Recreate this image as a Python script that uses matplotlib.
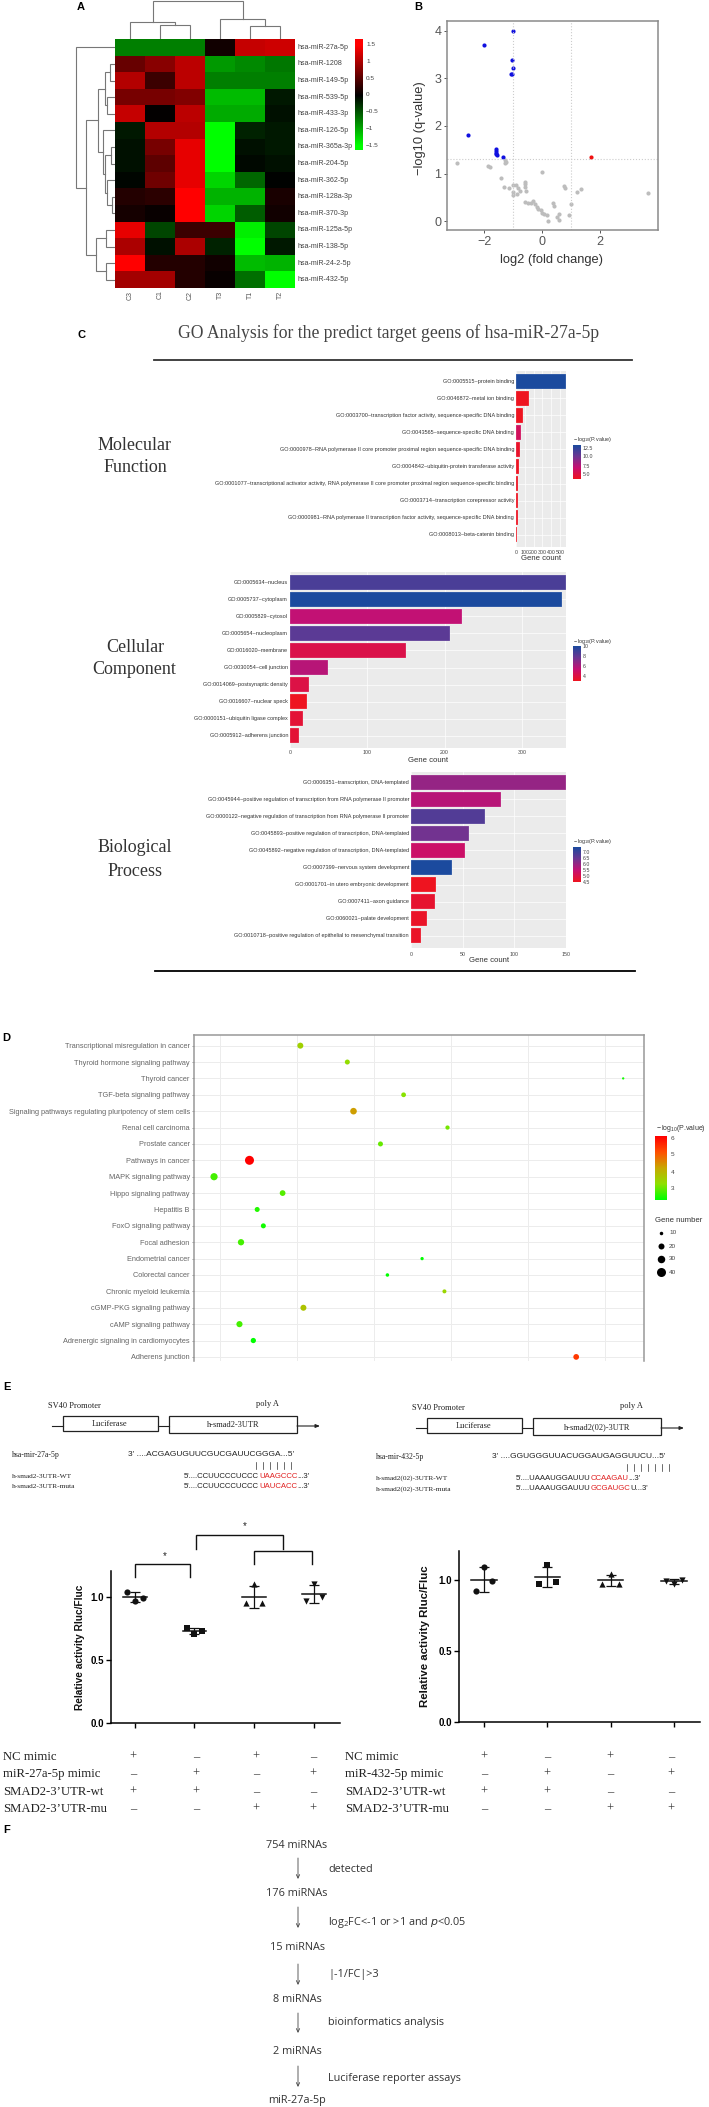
import numpy as np
import matplotlib
matplotlib.use("Agg")
import matplotlib.pyplot as plt
from matplotlib.colors import LinearSegmentedColormap, Normalize
from matplotlib.patches import Rectangle

W, H = 709, 2107
SANS = "Liberation Sans"
SERIF = "Liberation Serif"
plt.rcParams["font.family"] = SANS
plt.rcParams["mathtext.default"] = "regular"

# --- A heatmap
mirnas = ["hsa-miR-27a-5p", "hsa-miR-1208", "hsa-miR-149-5p", "hsa-miR-539-5p", "hsa-miR-433-3p",
          "hsa-miR-126-5p", "hsa-miR-365a-3p", "hsa-miR-204-5p", "hsa-miR-362-5p", "hsa-miR-128a-3p",
          "hsa-miR-370-3p", "hsa-miR-125a-5p", "hsa-miR-138-5p", "hsa-miR-24-2-5p", "hsa-miR-432-5p"]
samples = ["C3", "C1", "C2", "T3", "T1", "T2"]
heat = [[-0.75, -0.75, -0.75, 0.1, 1.15, 1.2],
        [0.6, 0.8, 1.1, -0.9, -0.8, -0.7],
        [1.05, 0.35, 1.1, -0.75, -0.75, -0.75],
        [0.7, 0.7, 0.75, -1.1, -1.1, -0.15],
        [1.15, 0.02, 1.1, -1.0, -1.0, -0.1],
        [-0.15, 1.05, 1.05, -1.5, -0.2, -0.15],
        [-0.1, 0.7, 1.35, -1.5, -0.1, -0.15],
        [-0.1, 0.55, 1.35, -1.5, -0.05, -0.1],
        [-0.03, 0.65, 1.35, -1.25, -0.6, -0.02],
        [0.2, 0.25, 1.5, -1.05, -1.05, 0.15],
        [0.12, 0.05, 1.5, -1.25, -0.55, 0.1],
        [1.35, -0.4, 0.35, 0.35, -1.4, -0.4],
        [1.0, -0.1, 1.0, -0.2, -1.5, -0.15],
        [1.5, 0.2, 0.2, 0.1, -1.1, -1.05],
        [0.95, 0.95, 0.2, 0.05, -0.65, -1.5]]
# dendrograms as (height, left, right), leaves are row / column numbers
row_tree = (39, 0, (29, (17, (10, (5, 1, 2), (8, 3, 4)),
                         (12, 5, (10, (4, 6, 7), (8, 8, (3, 9, 10))))),
                    (19, (9, 11, 12), (9, 13, 14))))
col_tree = (38, (17, 0, (14, 1, 2)), (20, 3, (13, 4, 5)))

# --- B volcano
blue_x = [-1, -2, -1.03, -1, -1.08, -1.03, -2.55, -1.6, -1.6, -1.6, -1.58, -1.57, -1.35]
blue_y = [4, 3.7, 3.39, 3.22, 3.09, 3.09, 1.81, 1.52, 1.48, 1.44, 1.41, 1.39, 1.34]
red_x = [1.7]
red_y = [1.36]
gray_x = [-2.94, -1.85, -1.8, -1.42, -1.28, -1.25, -1.28, 0, -0.59, -0.59, -0.59, -0.56, -1.31, -1.13,
          -1.01, -0.9, -0.82, -0.76, -0.99, -0.99, -0.87, -0.59, -0.47, -0.38, -0.3, -0.24, -0.18, -0.13,
          -0.05, -0.01, 0.07, 0.16, 0.22, 0.37, 0.41, 0.5, 0.6, 0.6, 0.76, 0.79, 0.92, 1, 1.22, 1.36, 3.66]
gray_y = [1.22, 1.17, 1.15, 0.9, 1.28, 1.24, 1.22, 1.04, 0.83, 0.78, 0.73, 0.64, 0.73, 0.71,
          0.76, 0.76, 0.69, 0.64, 0.62, 0.55, 0.57, 0.4, 0.39, 0.38, 0.43, 0.36, 0.31, 0.27,
          0.24, 0.18, 0.15, 0.13, 0.01, 0.39, 0.32, 0.1, 0.15, 0.03, 0.74, 0.69, 0.13, 0.36, 0.62, 0.67, 0.59]

# --- C GO bars
mf_terms = ["GO:0005515~protein binding", "GO:0046872~metal ion binding",
            "GO:0003700~transcription factor activity, sequence-specific DNA binding",
            "GO:0043565~sequence-specific DNA binding",
            "GO:0000978~RNA polymerase II core promoter proximal region sequence-specific DNA binding",
            "GO:0004842~ubiquitin-protein transferase activity",
            "GO:0001077~transcriptional activator activity, RNA polymerase II core promoter proximal region sequence-specific binding",
            "GO:0003714~transcription corepressor activity",
            "GO:0000981~RNA polymerase II transcription factor activity, sequence-specific DNA binding",
            "GO:0008013~beta-catenin binding"]
mf_counts = [568, 144, 80, 53, 40, 34, 28, 28, 23, 17]
mf_logp = [13, 4.4, 4.4, 6.5, 4.8, 4.5, 4.5, 4.5, 4.5, 4.4]
cc_terms = ["GO:0005634~nucleus", "GO:0005737~cytoplasm", "GO:0005829~cytosol", "GO:0005654~nucleoplasm",
            "GO:0016020~membrane", "GO:0030054~cell junction", "GO:0014069~postsynaptic density",
            "GO:0016607~nuclear speck", "GO:0000151~ubiquitin ligase complex", "GO:0005912~adherens junction"]
cc_counts = [357, 352, 222, 207, 150, 49, 25, 22, 17, 11]
cc_logp = [9.5, 11, 6, 9, 4.6, 6.3, 4.5, 3.3, 4, 4]
bp_terms = ["GO:0006351~transcription, DNA-templated",
            "GO:0045944~positive regulation of transcription from RNA polymerase II promoter",
            "GO:0000122~negative regulation of transcription from RNA polymerase II promoter",
            "GO:0045893~positive regulation of transcription, DNA-templated",
            "GO:0045892~negative regulation of transcription, DNA-templated",
            "GO:0007399~nervous system development", "GO:0001701~in utero embryonic development",
            "GO:0007411~axon guidance", "GO:0060021~palate development",
            "GO:0010718~positive regulation of epithelial to mesenchymal transition"]
bp_counts = [150, 87, 72, 56, 52, 40, 24, 23, 15, 10]
bp_logp = [6.0, 5.6, 6.8, 6.4, 5.3, 7.5, 4.4, 4.6, 4.5, 4.5]

# --- D KEGG dots
pathways = ["Transcriptional misregulation in cancer", "Thyroid hormone signaling pathway", "Thyroid cancer",
            "TGF-beta signaling pathway", "Signaling pathways regulating pluripotency of stem cells",
            "Renal cell carcinoma", "Prostate cancer", "Pathways in cancer", "MAPK signaling pathway",
            "Hippo signaling pathway", "Hepatitis B", "FoxO signaling pathway", "Focal adhesion",
            "Endometrial cancer", "Colorectal cancer", "Chronic myeloid leukemia", "cGMP-PKG signaling pathway",
            "cAMP signaling pathway", "Adrenergic signaling in cardiomyocytes", "Adherens junction"]
path_x = [2.04, 2.65, 6.23, 3.38, 2.73, 3.95, 3.08, 1.38, 0.92, 1.81, 1.48, 1.56, 1.27, 3.62, 3.17, 3.91, 2.08, 1.25,
          1.43, 5.62]
path_genes = [20, 16, 4, 15, 24, 13, 16, 42, 28, 19, 16, 16, 22, 9, 10, 12, 20, 21, 17, 19]
path_logp = [3.7, 3.5, 2.7, 3.4, 4.4, 3.3, 3.2, 6, 3.0, 3.1, 2.8, 2.7, 3.0, 2.6, 2.6, 3.6, 3.9, 3.0, 2.6, 5.4]
legend_genes = [10, 20, 30, 40]
legend_diam = [3.5, 6, 7.5, 9]

# --- E luciferase
groups = [1, 2, 3, 4]
left_vals = [[1.04, 0.97, 0.99], [0.75, 0.71, 0.73], [0.95, 1.1, 0.95], [0.97, 1.1, 1.0]]
right_vals = [[0.92, 1.09, 0.99], [0.97, 1.1, 0.98], [0.97, 1.04, 0.97], [0.99, 0.97, 1.0]]
markers = ["o", "s", "^", "v"]
table_rows = ["NC mimic", "mimic", "SMAD2-3\u2019UTR-wt", "SMAD2-3\u2019UTR-mu"]
table_marks = [["+", "\u2013", "+", "\u2013"], ["\u2013", "+", "\u2013", "+"],
               ["+", "+", "\u2013", "\u2013"], ["\u2013", "\u2013", "+", "+"]]

# --- F flow
flow_nodes = ["754 miRNAs", "176 miRNAs", "15 miRNAs", "8 miRNAs", "2 miRNAs", "miR-27a-5p"]
flow_steps = ["detected", r"log$_2$FC<-1 or >1 and $\mathit{p}$<0.05", "|-1/FC|>3", "bioinformatics analysis",
              "Luciferase reporter assays"]


fig = plt.figure(figsize=(W / 100, H / 100), dpi=100, facecolor="white")


def px_axes(x0, y0, x1, y1, **kw):
    return fig.add_axes([x0 / W, 1 - y1 / H, (x1 - x0) / W, (y1 - y0) / H], **kw)


ov = px_axes(0, 0, W, H)
ov.set_xlim(0, W)
ov.set_ylim(H, 0)
ov.axis("off")
ov.set_zorder(5)
ov.patch.set_alpha(0)


def txt(x, y, s, size=6, color="#222222", ha="left", va="center", **kw):
    return ov.text(x, y, s, fontsize=size, color=color, ha=ha, va=va, **kw)


def seq_text(x, y, parts, size=6.0):
    # parts are (text, colour), drawn one after the other
    rend = fig.canvas.get_renderer()
    for s, c in parts:
        t = txt(x, y, s, size=size, color=c)
        x = ov.transData.inverted().transform(t.get_window_extent(rend).p1)[0]


def draw_tree(ax, node, pos):
    if not isinstance(node, tuple):
        return pos[node], 0
    h, a, b = node
    pa, ha = draw_tree(ax, a, pos)
    pb, hb = draw_tree(ax, b, pos)
    ax.plot([ha, h, h, hb], [pa, pa, pb, pb], color="#777777", lw=0.8, solid_joinstyle="miter")
    return (pa + pb) / 2, h


for s, x, y in [("A", 81, 7), ("B", 418, 7), ("C", 82, 335), ("D", 6, 1038), ("E", 7, 1387), ("F", 7, 1830)]:
    txt(x, y, s, size=8, color="black", ha="center", fontweight="bold")

# A
green_red = LinearSegmentedColormap.from_list("gr", ["#00ff00", "#000000", "#ff0000"])
ax = px_axes(115, 39, 295, 288)
ax.imshow(np.array(heat), cmap=green_red, vmin=-1.5, vmax=1.5, aspect="auto", interpolation="nearest")
ax.axis("off")
for i, name in enumerate(mirnas):
    txt(298, 39 + 16.6 * (i + 0.5), name, size=5.1, color="#444444")
for i, name in enumerate(samples):
    txt(130 + 30 * i, 295, name, size=5, color="#555555", ha="center", rotation=90)

ax = px_axes(70, 39, 115, 288)
ax.set_xlim(45, 0)
ax.set_ylim(15, 0)
ax.axis("off")
draw_tree(ax, row_tree, {i: i + 0.5 for i in range(15)})

ax = px_axes(115, 0, 295, 39)
ax.set_xlim(0, 6)
ax.set_ylim(0, 39)
ax.axis("off")
# same tree helper, with the axes swapped
def draw_tree_top(node):
    if not isinstance(node, tuple):
        return node + 0.5, 0
    h, a, b = node
    pa, ha = draw_tree_top(a)
    pb, hb = draw_tree_top(b)
    ax.plot([pa, pa, pb, pb], [ha, h, h, hb], color="#777777", lw=0.8, solid_joinstyle="miter")
    return (pa + pb) / 2, h
draw_tree_top(col_tree)

ax = px_axes(355, 39, 363, 150)
ax.imshow(np.linspace(1.68, -1.62, 200)[:, None], cmap=green_red, vmin=-1.5, vmax=1.5, aspect="auto",
          extent=[0, 1, -1.62, 1.68])
ax.axis("off")
for v, s in zip([1.5, 1, 0.5, 0, -0.5, -1, -1.5], ["1.5", "1", "0.5", "0", "\u22120.5", "\u22121", "\u22121.5"]):
    txt(366, 95 - v * 33.6, s, size=4.6, color="#444444")

# B
ax = px_axes(447, 21, 658, 230)
ax.set_xlim(-3.28, 4.0)
ax.set_ylim(-0.18, 4.2)
for v in [-1, 1]:
    ax.axvline(v, color="#cccccc", lw=0.8, ls=":")
ax.axhline(1.3, color="#cccccc", lw=0.8, ls=":")
ax.scatter(gray_x, gray_y, s=9, c="#bdbdbd", linewidths=0)
ax.scatter(blue_x, blue_y, s=9, c="#1010e0", linewidths=0)
ax.scatter(red_x, red_y, s=9, c="#f01010", linewidths=0)
ax.set_xticks([-2, 0, 2], ["\u22122", "0", "2"])
ax.set_yticks([0, 1, 2, 3, 4])
ax.tick_params(labelsize=9, colors="#555555", length=2, width=0.7, pad=2)
for sp in ax.spines.values():
    sp.set_color("#8a8a8a")
    sp.set_linewidth(1.1)
txt(420, 128, "\u2212log10 (q-value)", size=9.3, color="#333333", ha="center", rotation=90)
txt(552, 260, "log2 (fold change)", size=9.3, color="#333333", ha="center")

# C
go_map = LinearSegmentedColormap.from_list("go", ["#ee1420", "#c60f72", "#6d3592", "#1b4a9e"])


def go_panel(x0, x1, top, bottom, terms, counts, logp, xmax, ticks, vmin, vmax, leg_top, leg_bot, leg_vals,
             leg_y, tick_y, count_x, count_y):
    ax = px_axes(x0, top, x1, bottom)
    ax.set_facecolor("#ebebeb")
    norm = Normalize(vmin, vmax)
    ypos = np.arange(len(terms))
    ax.grid(color="white", lw=0.5)
    ax.set_axisbelow(True)
    ax.barh(ypos, counts, height=0.9, color=go_map(norm(logp)), edgecolor="#ffffff80", linewidth=0.3)
    ax.set_xlim(0, xmax)
    ax.set_ylim(len(terms) - 0.28, -0.6)
    ax.set_xticks(ticks)
    ax.set_yticks(ypos)
    ax.set_xticklabels([])
    ax.set_yticklabels([])
    ax.tick_params(length=0)
    for sp in ax.spines.values():
        sp.set_visible(False)
    step = (bottom - top) / (len(terms) - 0.28 + 0.6)
    for i, t in enumerate(terms):
        txt(x0 - 2, top + (i + 0.6) * step, t, size=4.0, color="#333333", ha="right")
    for t in ticks:
        txt(x0 + (x1 - x0) * t / xmax, tick_y, str(t), size=3.8, color="#444444", ha="center")
    txt(count_x, count_y, "Gene count", size=5.6, color="#333333", ha="center")
    txt(573, leg_top - 5, r"$-\,log_{10}$(P.value)", size=3.9, color="#333333")
    leg = px_axes(573, leg_top, 581, leg_bot)
    leg.imshow(np.linspace(1, 0, 100)[:, None], cmap=go_map, aspect="auto")
    leg.axis("off")
    for v, y in zip(leg_vals, leg_y):
        txt(583, y, v, size=3.8, color="#444444")


go_panel(516, 566, 371, 547, mf_terms, mf_counts, mf_logp, 568, [0, 100, 200, 300, 400, 500], 4.4, 13,
         445, 479, ["12.5", "10.0", "7.5", "5.0"], [448, 457, 466, 475], 552, 541, 559)
go_panel(290, 566, 572, 748, cc_terms, cc_counts, cc_logp, 357, [0, 100, 200, 300], 3.3, 11,
         646, 681, ["10", "8", "6", "4"], [647, 656, 666, 676], 753, 428, 760)
go_panel(411, 566, 772, 948, bp_terms, bp_counts, bp_logp, 150, [0, 50, 100, 150], 4.4, 7.5,
         847, 882, ["7.0", "6.5", "6.0", "5.5", "5.0", "4.5"], [852, 858, 864, 870, 876, 882], 954, 489, 961)

txt(389, 333, "GO Analysis for the predict target geens of hsa-miR-27a-5p", size=12.7, color="#444444",
    ha="center", family=SERIF)
ov.plot([154, 632], [360, 360], color="#333333", lw=1.3)
ov.plot([155, 635], [971, 971], color="black", lw=1.3)
for s, x, y in [("Molecular", 135, 446), ("Function", 135, 468), ("Cellular", 135, 647), ("Biological", 135, 848),
                ("Process", 135, 871)]:
    txt(x, y, s, size=13, color="#333333", ha="center", family=SERIF)
comp = txt(134, 669, "Component", size=13, color="#333333", ha="center", family=SERIF)
comp.set_clip_path(Rectangle((90, 650), 86, 40, transform=ov.transData))
comp.set_clip_on(True)

# D
ax = px_axes(194, 1035, 644, 1361)
ax.set_xlim(0.66, 6.5)
ax.set_ylim(19.25, -0.65)
ax.set_xticks([1, 2, 3, 4, 5, 6])
ax.set_yticks(range(len(pathways)), pathways)
ax.grid(color="#ececec", lw=0.7)
ax.set_axisbelow(True)
kegg_map = LinearSegmentedColormap.from_list("kegg", ["#00ff00", "#90e000", "#c8a800", "#ff5000", "#ff0000"])
sizes = (np.interp(path_genes, [0] + legend_genes, [1.5] + legend_diam) * 0.72) ** 2
ax.scatter(path_x, range(len(pathways)), s=sizes, c=path_logp, cmap=kegg_map, vmin=2.6, vmax=6, linewidths=0,
           zorder=3, clip_on=False)
ax.tick_params(axis="y", labelsize=5.35, labelcolor="#666666", color="#888888", length=1.5, width=0.6, pad=1.5)
ax.tick_params(axis="x", length=0, labelbottom=False)
for name in ["left", "right", "top"]:
    ax.spines[name].set_color("#999999")
    ax.spines[name].set_linewidth(1.1)
ax.spines["bottom"].set_visible(False)

txt(656, 1129, r"$-\,log_{10}$(P.value)", size=5.0, color="#333333")
leg = px_axes(655, 1136, 667, 1200)
leg.imshow(np.linspace(1, 0, 100)[:, None], cmap=kegg_map, aspect="auto")
leg.axis("off")
for v, y in zip(["6", "5", "4", "3"], [1139, 1155, 1172, 1189]):
    txt(671, y, v, size=4.6, color="#444444")
txt(655, 1221, "Gene number", size=5.6, color="#333333")
for g, d, y in zip(legend_genes, legend_diam, [1233, 1246, 1259, 1272]):
    ov.scatter([661], [y], s=(d * 0.72) ** 2, c="black", linewidths=0)
    txt(669, y, str(g), size=4.6, color="#444444")

# E constructs
def construct(dx, dy, luc, utr, mir, seq, bars_x, wt, mut, seq_x):
    txt(48 + dx, 1406 + dy, "SV40 Promoter", size=6, family=SERIF)
    txt(256 + dx, 1404 + dy, "poly A", size=6, family=SERIF)
    ov.plot([52 + dx, 63 + dx], [1426 + dy, 1426 + dy], color="#222222", lw=0.8)
    ov.plot([158 + dx, 169 + dx], [1426 + dy, 1426 + dy], color="#222222", lw=0.8)
    ov.add_patch(Rectangle((63 + dx, 1416 + dy), 95, 15, fc="white", ec="#222222", lw=0.9))
    ov.add_patch(Rectangle((169 + dx, 1416 + dy), 128, 17, fc="white", ec="#222222", lw=0.9))
    txt(110 + dx, 1424 + dy, luc, size=6, ha="center", family=SERIF)
    txt(233 + dx, 1425 + dy, utr, size=6, ha="center", family=SERIF)
    ov.annotate("", xy=(320 + dx, 1426 + dy), xytext=(297 + dx, 1426 + dy),
                arrowprops=dict(arrowstyle="-|>,head_width=0.1,head_length=0.25", color="#222222", lw=0.8,
                                shrinkA=0, shrinkB=0))
    txt(12 + dx, 1455 + dy, mir, size=5.6, family=SERIF)
    txt(128 + dx, 1455 + dy, seq, size=6.0)
    for b in bars_x:
        ov.plot([b + dx, b + dx], [1462 + dy, 1469 + dy], color="#333333", lw=0.5)
    for yy, (name, before, red, after) in zip([1476, 1487], [wt, mut]):
        txt(12 + dx, yy + dy, name, size=5.3, family=SERIF)
        seq_text(seq_x + dx, yy + dy, [(before, "#222222"), (red, "#e02020"), (after, "#222222")], size=5.6)


construct(0, 0, "Luciferase", "h-smad2-3UTR", "hsa-mir-27a-5p", "3' ....ACGAGUGUUCGUCGAUUCGGGA...5'",
          [256, 263, 270, 277, 284, 291],
          ("h-smad2-3UTR-WT", "5'....CCUUCCCUCCC", "UAAGCCC", "...3'"),
          ("h-smad2-3UTR-muta", "5'....CCUUCCCUCCC", "UAUCACC", "...3'"), 184)
construct(364, 2, "Luciferase", "h-smad2(02)-3UTR", "hsa-mir-432-5p", "3' ....GGUGGGUUACUGGAUGAGGUUCU...5'",
          [263, 270, 277, 284, 291, 298, 305],
          ("h-smad2(02)-3UTR-WT", "5'....UAAAUGGAUUU", "CCAAGAU", "...3'"),
          ("h-smad2(02)-3UTR-muta", "5'....UAAAUGGAUUU", "GCGAUGC", "U...3'"), 152)


# E scatter plots
def luc_plot(x0, x1, y0, y1, vals, xlim, ymax, ylab_x, lab_size):
    ax = px_axes(x0, y0, x1, y1)
    ax.patch.set_alpha(0)
    offs = [-0.13, 0, 0.13]
    for g, v, m in zip(groups, vals, markers):
        ax.scatter([g + o for o in offs], v, marker=m, s=20, c="#111111", linewidths=0, zorder=3)
        mean, sd = np.mean(v), np.std(v, ddof=1)
        ax.plot([g - 0.2, g + 0.2], [mean, mean], color="#111111", lw=1.1)
        ax.errorbar(g, mean, yerr=sd, color="#111111", lw=0.9, capsize=3.6, capthick=0.9)
    ax.set_xlim(*xlim)
    ax.set_ylim(0, ymax)
    ax.set_xticks(groups, [])
    ax.set_yticks([0, 0.5, 1.0], ["0.0", "0.5", "1.0"], fontweight="bold")
    ax.tick_params(labelsize=7, length=3.5, width=1, pad=1.5)
    ax.spines["top"].set_visible(False)
    ax.spines["right"].set_visible(False)
    ax.spines["left"].set_linewidth(1.1)
    ax.spines["bottom"].set_linewidth(1.1)
    txt(ylab_x, (y0 + y1) / 2, "Relative activity Rluc/Fluc", size=lab_size, color="#111111", ha="center",
        rotation=90, fontweight="bold")


luc_plot(111, 340, 1571, 1723, left_vals, (0.6, 4.44), 1.206, 80, 7.3)
luc_plot(459, 700, 1551, 1722, right_vals, (0.605, 4.41), 1.2, 425, 8.2)

for x0, x1, top, bot in [(135, 190, 1564, 1577), (196, 283, 1535, 1549), (254, 312, 1551, 1564)]:
    ov.plot([x0, x0, x1, x1], [bot, top, top, bot], color="#111111", lw=1.0, solid_joinstyle="miter")
txt(165, 1556, "*", size=7, ha="center")
txt(245, 1526, "*", size=7, ha="center")


def mark_table(lab_x, xs, mimic):
    names = list(table_rows)
    names[1] = mimic + " mimic"
    for name, row, y in zip(names, table_marks, [1757, 1774, 1792, 1809]):
        txt(lab_x, y, name, size=9.2, color="#222222", family=SERIF)
        for x, m in zip(xs, row):
            txt(x, y, m, size=9, color="#333333", ha="center", family=SERIF)


mark_table(3, [133, 196, 256, 313], "miR-27a-5p")
mark_table(345, [484, 547, 610, 671], "miR-432-5p")

# F
node_y = [1846, 1894, 1947, 2000, 2052, 2101]
arrow_y = [(1858, 1879), (1907, 1928), (1964, 1985), (2013, 2033), (2066, 2087)]
step_y = [1870, 1922, 1974, 2023, 2078]
for s, y in zip(flow_nodes, node_y):
    txt(297, y, s, size=7.8, color="#333333", ha="center", family="Open Sans")
for (a, b), s, y in zip(arrow_y, flow_steps, step_y):
    ov.annotate("", xy=(298, b), xytext=(298, a),
                arrowprops=dict(arrowstyle="->,head_width=0.12,head_length=0.25", color="#444444", lw=0.6,
                                shrinkA=0, shrinkB=0))
    txt(328, y, s, size=7.8, color="#333333", family="Open Sans")

fig.savefig("out.png", dpi=100)
